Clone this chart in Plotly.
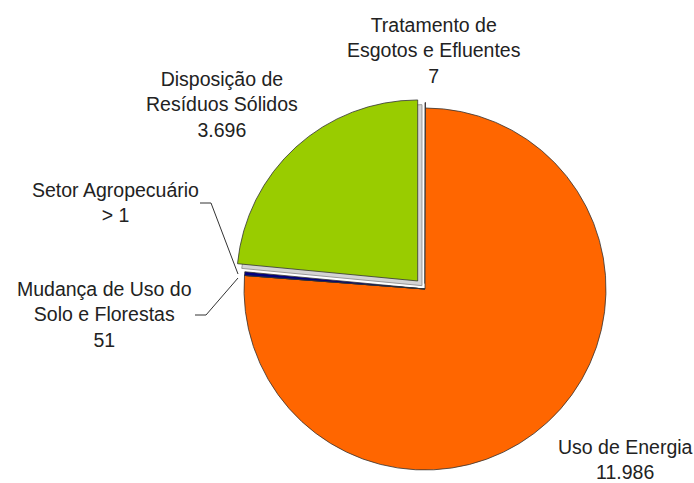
import plotly.graph_objects as go

W, H = 694, 483

# Data (clockwise from 12 o'clock)
categories = ["Tratamento de<br>Esgotos e Efluentes", "Uso de Energia", "Setor Agropecuário",
              "Mudança de Uso do<br>Solo e Florestas", "Disposição de<br>Resíduos Sólidos"]
values = [7, 11986, 0.5, 51, 3696]
value_labels = ["7", "11.986", "> 1", "51", "3.696"]
colors = ["#7E0021", "#FF6600", "#FFD320", "#000080", "#99CC00"]
pulls = [0.03, 0, 0, 0, 0.06]

# geometry of the pie (pixels)
cx, cy, r = 425, 289, 181
half = r * (1 + max(pulls))

def px(x):
    return x / W

def py(y):
    return 1 - y / H

domain = dict(x=[px(cx - half), px(cx + half)], y=[py(cy + half), py(cy - half)])

fig = go.Figure()
# soft shadow under the pulled-out slice (less pull -> sits down-right of it)
shadow_pull = [0, 0, max(pulls), 0, 0.025]
shadow_fill = ["rgba(0,0,0,0)"] * 4 + ["#d4d4d4"]
shadow_line = ["rgba(0,0,0,0)"] * 4 + ["#9a9a9a"]
fig.add_trace(go.Pie(
    labels=categories, values=values, sort=False, direction="clockwise",
    rotation=0, pull=shadow_pull,
    marker=dict(colors=shadow_fill, line=dict(color=shadow_line, width=1)),
    textinfo="none", hoverinfo="skip", showlegend=False, domain=domain,
))
fig.add_trace(go.Pie(
    labels=categories, values=values, sort=False, direction="clockwise",
    rotation=0, pull=pulls,
    marker=dict(colors=colors, line=dict(color="#333333", width=0.8)),
    textinfo="none", hoverinfo="label+value", showlegend=False, domain=domain,
))

label_pos = [(434, 50), (625, 459), (115, 202), (105, 314), (222, 105)]
for cat, vl, (x, y) in zip(categories, value_labels, label_pos):
    fig.add_annotation(x=px(x), y=py(y), xref="paper", yref="paper",
                       text=f"{cat}<br>{vl}", showarrow=False,
                       font=dict(family="Liberation Sans, Arial", size=19.5, color="#222222"),
                       align="center", xanchor="center", yanchor="middle")

# leader lines
leaders = [
    [(200, 203), (211, 203), (238, 274)],
    [(195, 315), (206, 315), (238, 278)],
]
for pts in leaders:
    for (x0, y0), (x1, y1) in zip(pts[:-1], pts[1:]):
        fig.add_shape(type="line", xref="paper", yref="paper",
                      x0=px(x0), y0=py(y0), x1=px(x1), y1=py(y1),
                      line=dict(color="#333333", width=1))

fig.update_layout(width=W, height=H, margin=dict(l=0, r=0, t=0, b=0),
                  paper_bgcolor="white", plot_bgcolor="white")
fig.write_html("out.html", config={"displayModeBar": False},
               post_script="document.body.style.margin='0';")
